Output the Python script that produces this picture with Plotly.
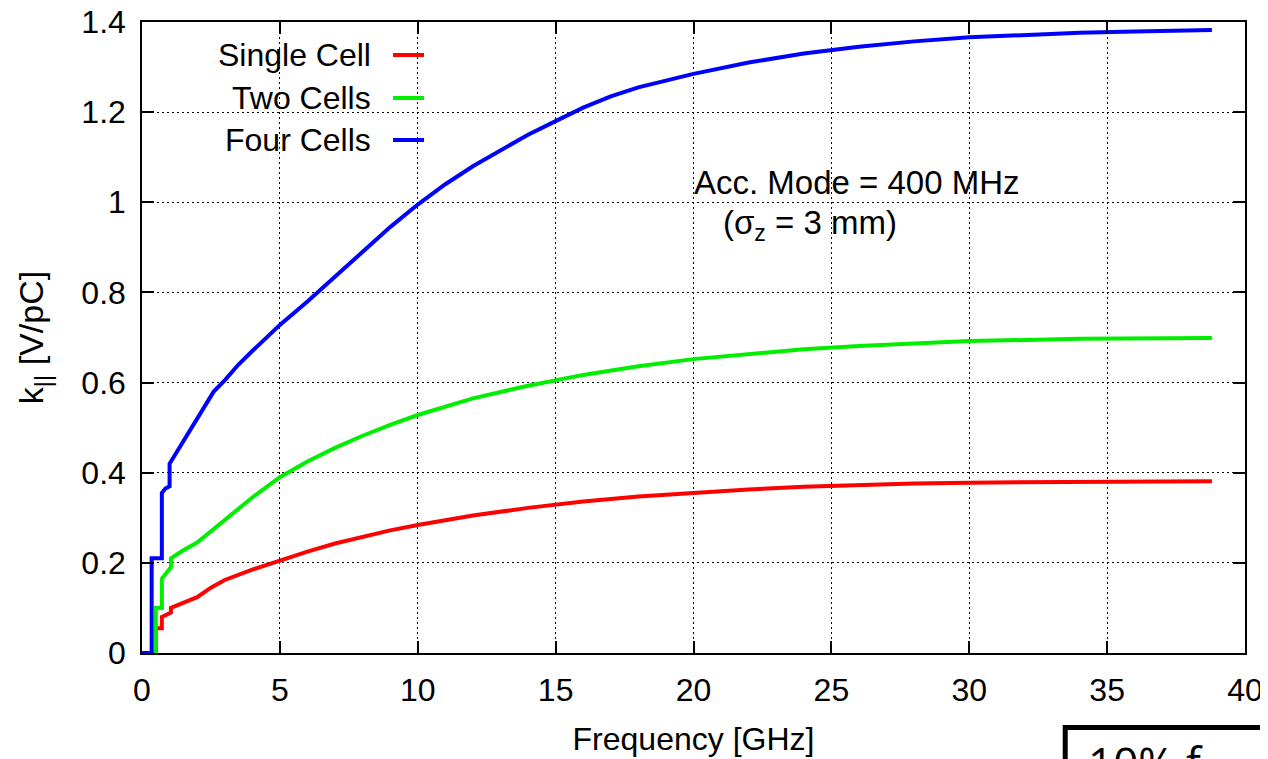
import plotly.graph_objects as go

# ---- data ----
series_names = ["Single Cell", "Two Cells", "Four Cells"]
series_colors = ["#ff0000", "#00ee00", "#0000ff"]

single_x = [0, 0.5, 0.5, 0.72, 0.72, 1.0, 1.05, 1.05, 1.5, 2, 2.5, 3, 4, 5, 6, 7, 8, 9, 10,
            12, 14, 16, 18, 20, 22, 24, 26, 28, 30, 34, 38.8]
single_y = [0, 0, 0.055, 0.055, 0.08, 0.09, 0.09, 0.10, 0.112, 0.124, 0.145, 0.162, 0.185, 0.206,
            0.225, 0.243, 0.258, 0.272, 0.284, 0.305, 0.322, 0.336, 0.347, 0.356, 0.363, 0.369,
            0.373, 0.376, 0.378, 0.380, 0.381]

two_x = [0, 0.5, 0.5, 0.72, 0.72, 0.9, 1.05, 1.05, 1.5, 2, 2.5, 3, 3.5, 4, 5, 6, 7, 8, 9, 10,
         12, 14, 16, 18, 20, 22, 24, 26, 28, 30, 34, 38.8]
two_y = [0, 0, 0.10, 0.10, 0.165, 0.18, 0.19, 0.21, 0.228, 0.245, 0.27, 0.295, 0.32, 0.345,
         0.39, 0.425, 0.455, 0.482, 0.506, 0.528, 0.565, 0.593, 0.617, 0.636, 0.652, 0.664,
         0.674, 0.681, 0.687, 0.692, 0.697, 0.699]

four_x = [0, 0.35, 0.35, 0.72, 0.72, 0.85, 1.0, 1.0, 1.2, 1.4, 1.6, 1.8, 2.0, 2.2, 2.4, 2.6,
          3.0, 3.5, 4, 4.5, 5, 6, 7, 8, 9, 10, 11, 12, 13, 14, 15, 16, 17, 18, 19, 20, 22, 24,
          26, 28, 30, 32, 34, 36, 38.8]
four_y = [0, 0, 0.21, 0.21, 0.355, 0.365, 0.37, 0.42, 0.44, 0.46, 0.48, 0.50, 0.52, 0.54, 0.56,
          0.58, 0.605, 0.64, 0.67, 0.70, 0.728, 0.78, 0.835, 0.89, 0.945, 0.995, 1.04, 1.08,
          1.115, 1.15, 1.18, 1.21, 1.235, 1.255, 1.27, 1.285, 1.31, 1.33, 1.345, 1.357, 1.366,
          1.372, 1.376, 1.379, 1.382]

xs = [single_x, two_x, four_x]
ys = [single_y, two_y, four_y]

FONT = "Liberation Sans"

fig = go.Figure()
for name, color, x, y in zip(series_names, series_colors, xs, ys):
    fig.add_trace(go.Scatter(x=x, y=y, mode="lines", name=name,
                             line=dict(color=color, width=4), showlegend=False))

axis_common = dict(
    automargin=False, ticklabeloverflow="allow",
    showline=True, linecolor="black", linewidth=1.5, mirror="allticks",
    ticks="inside", ticklen=12, tickwidth=1.5, tickcolor="black",
    showgrid=True, gridcolor="black", gridwidth=1, griddash="2px,3px",
    zeroline=False, tickfont=dict(family=FONT, size=32, color="black"),
)

fig.update_xaxes(range=[0, 40], dtick=5, tick0=0, ticklabelstandoff=8,
                 title=dict(text="Frequency [GHz]", font=dict(family=FONT, size=32, color="black"),
                            standoff=20),
                 **axis_common)
fig.update_yaxes(range=[0, 1.4], dtick=0.2, tick0=0, ticklabelstandoff=8,
                 title=dict(text="k<sub>||</sub> [V/pC]", font=dict(family=FONT, size=34, color="black"),
                            standoff=27),
                 **axis_common)

shapes = []
annotations = []

# white legend background covering the grid
shapes.append(dict(type="rect", xref="paper", yref="paper", x0=0.003, x1=0.27, y0=0.78, y1=0.997,
                   fillcolor="white", line=dict(width=0), layer="between"))

legend_y = [0.9477, 0.8796, 0.813]
for name, color, ly in zip(series_names, series_colors, legend_y):
    annotations.append(dict(xref="paper", yref="paper", x=0.2094, y=ly, text=name,
                            xanchor="right", yanchor="middle", showarrow=False,
                            font=dict(family=FONT, size=32, color="black")))
    shapes.append(dict(type="line", xref="paper", yref="paper", x0=0.2276, x1=0.2557,
                       y0=ly, y1=ly, line=dict(color=color, width=4)))

annotations.append(dict(x=19.95, y=1.043, xref="x", yref="y", text="Acc. Mode = 400 MHz",
                        xanchor="left", yanchor="middle", showarrow=False,
                        font=dict(family=FONT, size=33, color="black")))
annotations.append(dict(x=21.0, y=0.95, xref="x", yref="y", text="(σ<sub>z</sub> = 3 mm)",
                        xanchor="left", yanchor="middle", showarrow=False,
                        font=dict(family=FONT, size=33, color="black")))

# cut-off slide box at bottom right
shapes.append(dict(type="rect", xref="paper", yref="paper", x0=0.837, x1=1.06, y0=-0.25, y1=-0.118,
                   line=dict(color="black", width=5), fillcolor="rgba(0,0,0,0)"))
annotations.append(dict(xref="paper", yref="paper", x=0.856, y=-0.122, text="10% f",
                        xanchor="left", yanchor="top", showarrow=False,
                        font=dict(family="Open Sans", size=44, color="black")))

# the page body has an 8px margin, so the figure is sized to fit the 1268x759 window
fig.update_layout(
    width=1260, height=751,
    margin=dict(l=134, r=23, t=14, b=106),
    paper_bgcolor="white", plot_bgcolor="white",
    shapes=shapes, annotations=annotations,
    showlegend=False,
)

fig.write_html("out.html")
